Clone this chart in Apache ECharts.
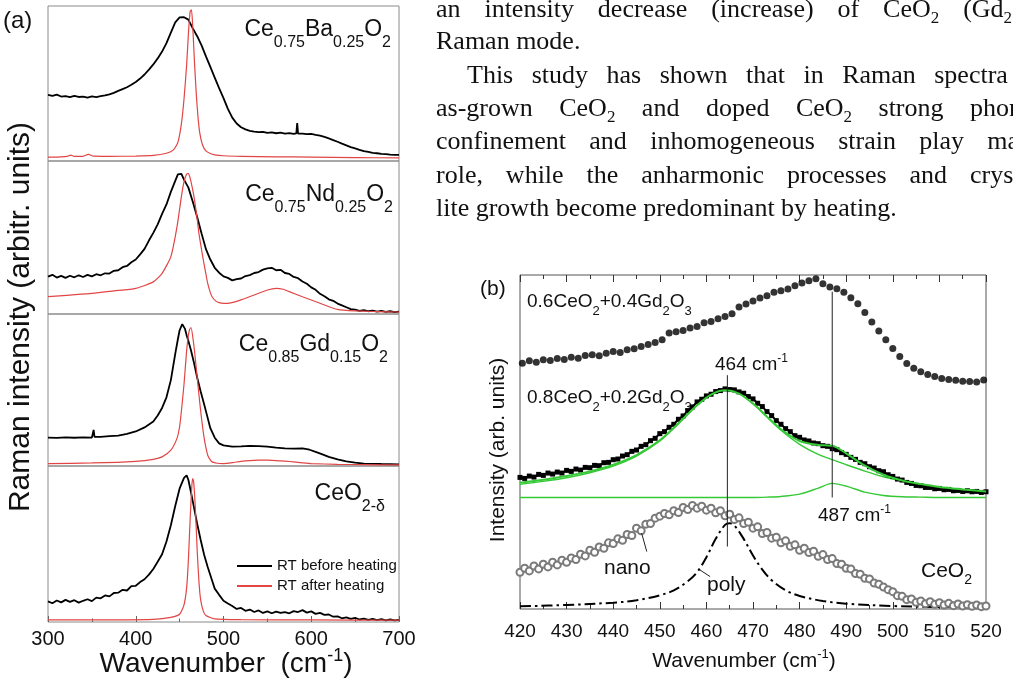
<!DOCTYPE html>
<html><head><meta charset="utf-8">
<script src="https://cdn.jsdelivr.net/npm/echarts@6/dist/echarts.min.js"></script>
<style>html,body{margin:0;padding:0;background:#fff}#c{width:1013px;height:687px}</style>
</head><body><div id="c"></div>
<script>
// ---------------- DATA: panel (a) Raman spectra, wavenumber (cm-1) vs normalised intensity ----------------
const axisATicks = [300, 400, 500, 600, 700];
const baBefore = [[300,42.6],[305,42.0],[310,42.8],[315,41.6],[320,41.9],[325,41.2],[330,42.0],[335,41.3],[340,41.6],[345,40.9],[350,41.7],[355,41.2],[360,41.8],[365,42.3],[370,43.0],[375,44.0],[380,45.2],[385,46.4],[390,47.6],[395,49.2],[400,51.0],[405,53.2],[410,55.8],[415,59.0],[420,62.3],[425,66.2],[430,70.6],[435,76.0],[440,82.8],[445,89.5],[450,92.6],[455,92.8],[460,91.2],[465,85.6],[470,80.5],[475,74.6],[480,67.5],[485,60.7],[490,53.8],[495,47.0],[500,40.6],[505,33.6],[510,28.0],[515,24.2],[520,21.8],[525,20.4],[530,19.5],[535,19.0],[540,18.6],[545,18.8],[550,18.2],[555,18.5],[560,17.9],[565,18.3],[570,17.6],[575,18.0],[580,17.5],[583,17.8],[584,24.5],[585,17.6],[590,17.7],[595,17.3],[600,17.5],[605,16.9],[610,16.4],[615,15.5],[620,14.6],[625,13.5],[630,12.4],[635,11.2],[640,10.1],[645,9.0],[650,8.1],[655,7.2],[660,6.4],[665,5.9],[670,5.3],[675,5.0],[680,4.6],[685,4.4],[690,4.1],[695,4.0],[700,3.9]];
const baAfter = [[300,2.5],[315,2.7],[322,3.0],[326,3.8],[330,3.0],[340,3.0],[346,4.3],[352,3.1],[370,3.0],[400,3.2],[420,3.6],[435,5.0],[443,7.2],[448,12],[452,24],[455,40],[458,62],[460,82],[462,96.5],[463.5,97.5],[465,86],[467,63],[469,43],[471,28],[473,18],[476,10.5],[480,6.5],[485,4.8],[490,4.0],[500,3.4],[520,3.0],[560,2.7],[600,2.5],[650,2.2],[700,2.0]];
const ndBefore = [[300,24.4],[305,25.6],[310,23.8],[315,24.9],[320,23.6],[325,25.0],[330,24.0],[335,25.3],[340,24.2],[345,25.6],[350,24.6],[355,26.0],[360,25.3],[365,26.6],[370,26.4],[375,28.2],[380,28.6],[385,30.6],[390,31.4],[395,33.8],[400,35.6],[405,39.0],[410,42.6],[415,48.0],[420,53.0],[425,58.6],[430,65.4],[435,71.6],[440,79.8],[445,87.0],[448,91.2],[450,90.4],[452,91.6],[455,87.8],[460,82.6],[465,73.4],[470,63.4],[475,52.6],[480,42.4],[485,35.6],[490,30.2],[495,27.0],[500,24.6],[505,23.6],[510,22.0],[515,22.8],[520,23.2],[525,24.8],[530,25.4],[535,26.8],[540,27.4],[545,29.0],[550,29.8],[555,30.2],[560,28.6],[565,28.9],[570,26.8],[575,26.2],[580,24.2],[585,23.4],[590,21.2],[595,19.8],[600,17.4],[605,15.8],[610,13.2],[615,11.6],[620,9.6],[625,8.6],[630,6.8],[635,5.6],[640,4.4],[645,3.2],[650,2.8],[655,2.0],[660,2.6],[665,1.8],[670,2.2],[675,1.6],[680,2.0],[685,1.4],[690,1.8],[695,1.2],[700,1.5]];
const ndAfter = [[300,11.3],[325,12.4],[350,13.5],[375,15.1],[400,16.8],[420,21],[430,26.6],[440,37.5],[447,57],[452,76.7],[455,86.5],[458,91.5],[460,91.8],[462,88.7],[465,81],[467,74.5],[470,62],[472,52.7],[475,42],[477,35.3],[480,26],[482,20],[485,14],[487,11.3],[491,8.6],[495,7.4],[500,6.9],[505,7.0],[512,7.8],[520,9.2],[535,12.4],[550,15.7],[560,16.8],[568,16.2],[575,14.6],[590,11.3],[610,7],[630,3],[650,2],[675,1.6],[700,1.3]];
const gdBefore = [[300,18.7],[310,18.5],[320,18.8],[330,18.6],[340,18.8],[350,18.7],[351,19.4],[352,23.8],[353,19.2],[360,19.1],[370,19.6],[380,20.0],[390,21.2],[400,22.7],[410,25.4],[420,29.3],[425,33.2],[430,38.2],[435,45.2],[440,56.5],[445,73.8],[448,83.4],[450,89.3],[453,93.3],[456,90.4],[458,86.0],[460,82.2],[463,76.0],[466,68.8],[470,58.2],[474,49.0],[478,40.4],[481,33.8],[485,24.9],[490,18.6],[495,14.9],[500,13.6],[510,12.7],[520,12.9],[530,13.3],[540,13.1],[550,12.7],[560,12.1],[570,11.6],[580,11.4],[590,11.6],[598,10.7],[605,9.3],[612,7.8],[620,6.0],[630,4.4],[640,3.1],[650,2.2],[660,1.6],[680,1.3],[700,1.1]];
const gdAfter = [[300,1.6],[350,2.0],[400,3.1],[420,4.4],[430,6],[440,10.4],[447,18.2],[450,26],[452,36],[455,53.8],[458,76],[460,86],[461.5,90],[463,91],[466,80.4],[468,70],[470,58.2],[472,47],[474,36],[476,26.5],[478,18.2],[480,12],[482,7.1],[485,4.0],[487,2.7],[493,1.8],[500,1.6],[510,2.2],[520,3.1],[530,3.6],[540,3.8],[550,3.8],[560,3.6],[570,3.2],[580,2.7],[590,2.1],[600,1.6],[630,1.1],[660,0.9],[700,0.7]];
const ceBefore = [[300,13.2],[305,12.0],[310,13.8],[315,12.6],[320,14.2],[325,12.9],[330,14.0],[335,12.4],[340,13.6],[345,14.6],[350,13.4],[355,15.6],[360,15.2],[365,17.0],[370,16.4],[375,18.6],[380,18.8],[385,20.6],[390,20.2],[395,23.0],[400,23.2],[405,25.6],[410,27.4],[415,30.4],[420,34.0],[425,38.6],[430,43.4],[435,51.6],[440,62.0],[445,74.4],[450,85.6],[455,92.4],[458,94.0],[460,91.0],[463,83.0],[466,74.4],[470,63.0],[474,52.6],[478,43.0],[482,35.2],[487,26.6],[490,21.4],[495,17.4],[500,13.6],[505,11.8],[510,10.2],[515,8.4],[520,9.0],[525,7.2],[530,8.0],[535,6.4],[540,7.4],[545,5.8],[550,6.8],[555,5.6],[560,6.6],[565,5.8],[570,6.4],[575,5.6],[580,7.0],[585,6.4],[590,7.6],[595,6.0],[600,6.8],[605,5.2],[610,5.8],[615,4.6],[620,4.8],[625,3.4],[630,3.6],[635,2.4],[640,3.0],[645,2.0],[650,2.6],[655,1.6],[660,2.2],[665,1.4],[670,2.0],[675,1.2],[680,1.8],[685,1.0],[690,1.6],[695,1.0],[700,1.3]];
const ceAfter = [[300,1.3],[380,1.4],[420,1.7],[440,3],[450,5],[455,11],[458,22],[460,40],[462,66],[464,88],[465,92],[466,90],[468,72],[470,46],[472,26],[474,14],[477,7],[480,4.2],[490,2],[520,1.5],[600,1.3],[700,1.2]];
const sampleLabelsA = ['Ce_{0.75}Ba_{0.25}O_{2}', 'Ce_{0.75}Nd_{0.25}O_{2}', 'Ce_{0.85}Gd_{0.15}O_{2}', 'CeO_{2-δ}'];
const legendNames = ['RT before heating', 'RT after heating'];

// ---------------- DATA: panel (b) ----------------
const axisBTicks = [420, 430, 440, 450, 460, 470, 480, 490, 500, 510, 520];
const gd40Points = [[420.5,73.6],[422,74.3],[423.5,73.9],[425,74.6],[426.5,74.4],[428,75.0],[429.5,74.7],[431,75.4],[432.5,75.1],[434,75.9],[435.5,76.1],[437,75.8],[438.5,76.6],[440,77.1],[441.5,76.8],[443,77.6],[444.5,77.9],[446,78.6],[447.5,79.2],[449,79.8],[450.5,80.6],[452,82.6],[453.5,83.0],[455,83.4],[456.5,84.1],[458,84.6],[459.5,85.7],[461,86.1],[462.5,86.9],[464,87.6],[465.5,88.4],[467,90.4],[468.5,91.3],[470,92.2],[471.5,93.1],[473,93.8],[474.5,94.8],[476,95.3],[477.5,95.8],[479,96.8],[480.5,97.6],[482,98.3],[483.5,98.9],[485,97.4],[486.5,96.4],[488,95.9],[489.5,94.8],[491,93.2],[492.5,91.4],[494,88.8],[495.5,85.9],[497,83.2],[498.5,80.6],[500,78.0],[501.5,75.6],[503,73.5],[504.5,72.1],[506,71.0],[507.5,70.2],[509,69.6],[510.5,69.0],[512,68.7],[513.5,68.5],[515,68.2],[516.5,68.1],[518,68.0],[519.5,68.6]];
// 0.8CeO2+0.2Gd2O3 measured points, one per cm-1 from 420 to 520
const gd20Start = 420;
const gd20Values = [39.4,39.1,39.8,39.5,40.3,40.0,40.7,40.4,41.0,40.7,41.5,41.2,41.9,41.6,42.4,42.3,43.0,42.9,43.8,43.9,44.7,44.9,45.8,46.2,47.2,47.6,48.7,49.2,50.4,51.1,52.5,53.1,54.4,55.3,56.8,57.8,59.4,60.5,62.0,62.8,63.8,64.3,65.1,65.4,65.9,65.7,65.6,65.0,64.6,63.6,62.9,61.6,60.6,59.1,57.9,56.4,55.3,54.0,53.1,51.9,51.4,50.6,50.3,49.7,49.5,48.9,48.7,48.0,47.7,46.8,46.3,45.4,44.8,43.9,43.5,42.6,42.2,41.4,41.1,40.2,39.7,38.9,38.6,37.9,37.6,37.0,36.9,36.4,36.4,36.0,36.1,35.7,35.8,35.4,35.5,35.2,35.4,35.1,35.2,34.9,35.1];
const fitX = [420,425,430,435,440,445,450,454,458,461,464,467,470,473,476,480,484,487,490,494,498,502,506,510,515,520];
const fitTotal = [37.8,38.7,39.8,41.2,43.2,46.1,50.5,55.6,61.0,64.2,65.5,64.5,61.5,57.6,53.8,50.3,49.1,48.9,46.6,42.9,40.2,38.5,37.4,36.5,35.8,35.2];
const fit464 = [37.3,38.2,39.3,40.8,42.8,45.8,50.3,55.5,61.0,64.2,65.5,64.5,61.5,57.5,53.5,49.3,46.3,44.7,43.2,41.3,39.6,38.3,37.3,36.5,35.8,35.2];
const fit487 = [33.4,33.4,33.4,33.4,33.4,33.4,33.4,33.4,33.4,33.4,33.4,33.4,33.4,33.5,33.7,34.4,36.2,37.6,36.8,35.0,34.0,33.6,33.5,33.4,33.4,33.4];
// nano CeO2, one point per cm-1 from 420 to 520
const nanoStart = 420;
const nanoValues = [11.0,12.2,11.4,12.9,12.0,13.4,12.6,14.0,13.2,14.6,14.0,15.3,14.8,16.4,15.9,17.6,17.0,18.6,18.2,19.8,19.6,21.0,20.6,22.3,22.0,24.2,23.4,25.4,25.6,27.2,27.8,28.6,28.2,29.4,28.9,30.4,29.8,31.0,30.2,30.8,29.6,30.2,28.8,29.4,27.9,28.4,26.8,27.3,25.6,26.0,24.2,24.6,22.6,22.9,21.2,21.5,19.8,20.4,18.8,19.2,17.6,18.2,16.9,17.3,15.8,16.3,14.8,15.1,13.6,13.4,12.2,12.0,10.6,10.4,9.2,9.0,7.8,7.4,6.6,5.8,5.2,4.0,3.8,2.8,3.0,2.0,2.4,1.6,2.2,1.4,1.9,1.2,1.7,1.0,1.5,0.9,1.3,0.8,1.2,0.7,0.9];
const polyCurve = [[420,0.8],[430,1.2],[440,1.9],[445,2.6],[450,4.1],[453,5.6],[456,8.3],[458,11],[460,15.5],[462,21],[464,25.2],[465,25.7],[466,25],[468,21],[470,16],[472,11.8],[474,8.6],[477,5.6],[480,3.9],[485,2.4],[490,1.6],[500,0.9],[510,0.6],[520,0.4]];
const line464 = [[464.5,18.7],[464.5,70]];
const line487 = [[487,33.4],[487,95]];
const nanoPointer = [[447.2,17.2],[446.1,22.7]];
const polyPointer = [[460.8,9.7],[458.6,11.7]];

// ---------------- TEXT ----------------
const paraLines = [
  {words:['an','intensity','decrease','(increase)','of','CeO_{2}','(Gd_{2}O_{3})'], indent:0, justify:true},
  {words:['Raman','mode.'], indent:0, justify:false},
  {words:['This','study','has','shown','that','in','Raman','spectra','of'], indent:31, justify:true},
  {words:['as-grown','CeO_{2}','and','doped','CeO_{2}','strong','phonon'], indent:0, justify:true},
  {words:['confinement','and','inhomogeneous','strain','play','major'], indent:0, justify:true},
  {words:['role,','while','the','anharmonic','processes','and','crystal-'], indent:0, justify:true},
  {words:['lite','growth','become','predominant','by','heating.'], indent:0, justify:false}
];

// ---------------- RENDERING ----------------
const SANS = '"Liberation Sans", Arial, sans-serif';
const SERIF = '"Liberation Serif", "Times New Roman", serif';
const RED = '#e24545', GREEN = '#36c936', FRAME_A = '#8a8a8a', FRAME_B = '#555';
const mctx = document.createElement('canvas').getContext('2d');
function tw(t, size, fam) { mctx.font = size + 'px ' + fam; return mctx.measureText(t).width; }
function parse(str, size, small, drop, raise) {
  const out = []; const re = /_\{([^}]*)\}|\^\{([^}]*)\}|([^_^]+)/g; let m;
  while ((m = re.exec(str))) {
    if (m[1] !== undefined) out.push([m[1], small, drop]);
    else if (m[2] !== undefined) out.push([m[2], small, -raise]);
    else out.push([m[3], size, 0]);
  }
  return out;
}
function segWidth(segs, fam) { return segs.reduce((a, s) => a + tw(s[0], s[1], fam), 0); }
function txt(x, base, t, size, fam, extra) {
  return Object.assign({ type: 'text', x: x, y: base - 0.345 * size, silent: true,
    style: { text: t, fontSize: size, fontFamily: fam, fill: '#111', align: 'left', verticalAlign: 'middle' } }, extra || {});
}
function place(segs, x, base, align, fam) {
  const total = segWidth(segs, fam);
  let cx = align === 'right' ? x - total : align === 'center' ? x - total / 2 : x;
  return segs.map(s => { const e = txt(cx, base + s[2], s[0], s[1], fam); cx += tw(s[0], s[1], fam); return e; });
}

const gfx = [];
// paragraph
const PX = 436, PR = 1048, PSIZE = 26, PBASE = [19, 51, 85, 118, 151, 185, 218];
paraLines.forEach((ln, i) => {
  const ws = ln.words.map(w => parse(w, PSIZE, 17, 5, 0));
  const widths = ws.map(s => segWidth(s, SERIF));
  const start = PX + ln.indent;
  const natural = widths.reduce((a, b) => a + b, 0);
  const gap = ln.justify ? (PR - start - natural) / (ws.length - 1) : tw(' ', PSIZE, SERIF);
  let cx = start;
  ws.forEach((s, j) => { gfx.push(...place(s, cx, PBASE[i], 'left', SERIF)); cx += widths[j] + gap; });
});
// panel (a) texts
gfx.push(...place(parse('(a)', 24, 15, 0, 0), 3, 30, 'left', SANS));
const labBase = [38, 203, 353, 502], labRight = [391, 393, 388, 385];
sampleLabelsA.forEach((l, i) => gfx.push(...place(parse(l, 23, 16, 10, 0), labRight[i], labBase[i], 'right', SANS)));
gfx.push(...place(parse('Wavenumber  (cm^{-1})', 28, 18, 0, 12), 226, 674, 'center', SANS));
gfx.push({ type: 'text', x: 21, y: 317, rotation: Math.PI / 2, silent: true,
  style: { text: 'Raman intensity (arbitr. units)', fontSize: 30, fontFamily: SANS, fill: '#111', align: 'center', verticalAlign: 'middle' } });
// panel (b) texts
gfx.push(...place(parse('(b)', 21, 14, 0, 0), 480, 296, 'left', SANS));
gfx.push(...place(parse('0.6CeO_{2}+0.4Gd_{2}O_{3}', 19, 13, 8, 0), 527, 308, 'left', SANS));
gfx.push(...place(parse('0.8CeO_{2}+0.2Gd_{2}O_{3}', 19, 13, 8, 0), 527, 404, 'left', SANS));
gfx.push(...place(parse('464 cm^{-1}', 19, 12, 0, 8), 715, 371, 'left', SANS));
gfx.push(...place(parse('487 cm^{-1}', 19, 12, 0, 8), 818, 522, 'left', SANS));
gfx.push(...place(parse('nano', 21, 14, 0, 0), 604, 575, 'left', SANS));
gfx.push(...place(parse('poly', 21, 14, 0, 0), 707, 592, 'left', SANS));
gfx.push(...place(parse('CeO_{2}', 21, 14, 7, 0), 921, 578, 'left', SANS));
gfx.push(...place(parse('Wavenumber (cm^{-1})', 21, 13, 0, 9), 744, 668, 'center', SANS));
gfx.push({ type: 'text', x: 498, y: 450, rotation: Math.PI / 2, silent: true,
  style: { text: 'Intensity (arb. units)', fontSize: 21, fontFamily: SANS, fill: '#111', align: 'center', verticalAlign: 'middle' } });

// grids
const gridsA = [[6,155],[161,153],[314,152],[466,156]];
const grid = gridsA.map(g => ({ left: 48, width: 351, top: g[0], height: g[1], show: true, borderColor: FRAME_A, borderWidth: 1 }));
grid.push({ left: 520, width: 466, top: 275, height: 334, show: true, borderColor: FRAME_B, borderWidth: 1 });

const xAxis = [], yAxis = [];
gridsA.forEach((g, i) => {
  const last = i === 3;
  xAxis.push({ gridIndex: i, type: 'value', min: axisATicks[0], max: axisATicks[axisATicks.length - 1], interval: 100,
    axisLine: { show: false }, splitLine: { show: false },
    axisTick: { show: last, inside: true, length: 6, lineStyle: { color: '#666' } },
    minorTick: { show: last, splitNumber: 2, length: 3.5, lineStyle: { color: '#666' } },
    axisLabel: { show: last, fontSize: 20, fontFamily: SANS, color: '#111', margin: 7 } });
  yAxis.push({ gridIndex: i, type: 'value', min: 0, max: 100, show: false });
});
xAxis.push({ gridIndex: 4, type: 'value', min: axisBTicks[0], max: axisBTicks[axisBTicks.length - 1], interval: 10,
  axisLine: { show: false }, splitLine: { show: false },
  axisTick: { inside: true, length: 7, lineStyle: { color: '#333' } },
  minorTick: { show: true, splitNumber: 2, length: 4, lineStyle: { color: '#333' } },
  axisLabel: { fontSize: 19, fontFamily: SANS, color: '#111', margin: 13 } });
xAxis.push({ gridIndex: 4, position: 'top', type: 'value', min: axisBTicks[0], max: axisBTicks[axisBTicks.length - 1], interval: 10,
  axisLine: { show: false }, splitLine: { show: false },
  axisTick: { inside: true, length: 7, lineStyle: { color: '#333' } },
  minorTick: { show: true, splitNumber: 2, length: 4, lineStyle: { color: '#333' } },
  axisLabel: { show: false } });
yAxis.push({ gridIndex: 4, type: 'value', min: 0, max: 100, show: false });

const series = [];
[[baBefore, baAfter], [ndBefore, ndAfter], [gdBefore, gdAfter], [ceBefore, ceAfter]].forEach((p, i) => {
  series.push({ name: legendNames[0], type: 'line', xAxisIndex: i, yAxisIndex: i, data: p[0], symbol: 'none',
    lineStyle: { color: '#000', width: 1.8 }, itemStyle: { color: '#000' }, z: 3 });
  series.push({ name: legendNames[1], type: 'line', xAxisIndex: i, yAxisIndex: i, data: p[1], symbol: 'none', smooth: 0.2,
    lineStyle: { color: RED, width: 1.2 }, itemStyle: { color: RED }, z: 4 });
});
const BX = 4, BY = 4;
series.push({ type: 'scatter', xAxisIndex: BX, yAxisIndex: BY, data: gd40Points, symbol: 'circle', symbolSize: 7, itemStyle: { color: '#000' } });
series.push({ type: 'line', xAxisIndex: BX, yAxisIndex: BY, data: gd20Values.map((v, i) => [gd20Start + i, v]),
  symbol: 'rect', symbolSize: 5, showAllSymbol: true, lineStyle: { color: '#000', width: 2 }, itemStyle: { color: '#000' } });
series.push({ type: 'line', xAxisIndex: BX, yAxisIndex: BY, data: fitX.map((x, i) => [x, fit464[i]]), symbol: 'none', smooth: 0.3,
  lineStyle: { color: GREEN, width: 1.4 } });
series.push({ type: 'line', xAxisIndex: BX, yAxisIndex: BY, data: fitX.map((x, i) => [x, fit487[i]]), symbol: 'none', smooth: 0.3,
  lineStyle: { color: GREEN, width: 1.4 } });
series.push({ type: 'line', xAxisIndex: BX, yAxisIndex: BY, data: fitX.map((x, i) => [x, fitTotal[i]]), symbol: 'none', smooth: 0.3,
  lineStyle: { color: GREEN, width: 2 }, z: 5 });
series.push({ type: 'line', xAxisIndex: BX, yAxisIndex: BY, data: nanoValues.map((v, i) => [nanoStart + i, v]),
  symbol: 'emptyCircle', symbolSize: 7, showAllSymbol: true, lineStyle: { color: '#9a9a9a', width: 1 },
  itemStyle: { color: '#7a7a7a', borderWidth: 1 } });
series.push({ type: 'line', xAxisIndex: BX, yAxisIndex: BY, data: polyCurve, symbol: 'none', smooth: 0.35,
  lineStyle: { color: '#000', width: 2, type: [11, 4, 2.5, 4] } });
[line464, line487, nanoPointer, polyPointer].forEach(d => series.push({ type: 'line', xAxisIndex: BX, yAxisIndex: BY, data: d,
  symbol: 'none', lineStyle: { color: '#222', width: 1 }, z: 6 }));
series.forEach(s => { s.animation = false; s.silent = true; });

const chart = echarts.init(document.getElementById('c'), null, { renderer: 'canvas', width: 1013, height: 687 });
chart.setOption({
  backgroundColor: '#fff', animation: false,
  grid, xAxis, yAxis, series,
  legend: { data: legendNames, orient: 'vertical', left: 232, top: 553, icon: 'rect', itemWidth: 35, itemHeight: 2, itemGap: 4,
    selectedMode: false, textStyle: { fontSize: 15, fontFamily: SANS, color: '#111', lineHeight: 16 } },
  graphic: { elements: gfx }
});
</script></body></html>
